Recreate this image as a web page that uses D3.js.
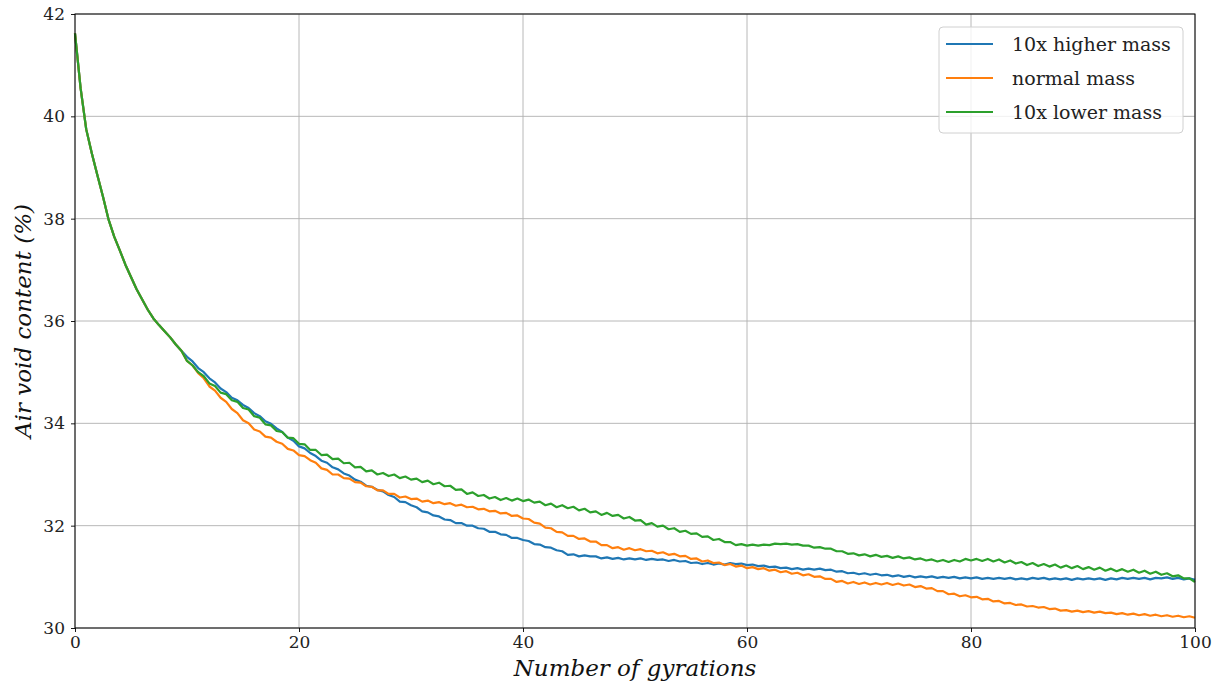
<!DOCTYPE html>
<html>
<head>
<meta charset="utf-8">
<script src="https://cdnjs.cloudflare.com/ajax/libs/d3/7.8.5/d3.min.js"></script>
<style>
  body { margin: 0; background: #fff; }
  text { font-family: "DejaVu Serif", "Liberation Serif", serif; }
</style>
</head>
<body>
<div id="chart"></div>
<script>
// gyration step between two readings
var step = 0.5;

// values, one every half gyration (0 .. 100)
var higherMass = [
  41.62, 40.55, 39.75, 39.28, 38.85, 38.43, 37.98, 37.65, 37.38, 37.10, 36.86, 36.62, 36.42, 36.22, 36.05, 35.92, 35.80, 35.68, 35.54, 35.42,
  35.30, 35.21, 35.08, 35.00, 34.88, 34.80, 34.68, 34.61, 34.50, 34.45, 34.36, 34.30, 34.20, 34.14, 34.04, 33.99, 33.90, 33.83, 33.72, 33.66,
  33.55, 33.51, 33.42, 33.36, 33.27, 33.23, 33.14, 33.10, 33.02, 32.98, 32.90, 32.86, 32.78, 32.76, 32.70, 32.67, 32.60, 32.56, 32.47, 32.46,
  32.40, 32.36, 32.28, 32.26, 32.20, 32.18, 32.12, 32.11, 32.05, 32.05, 32.00, 32.00, 31.95, 31.94, 31.88, 31.88, 31.83, 31.82, 31.76, 31.76,
  31.72, 31.70, 31.64, 31.63, 31.58, 31.57, 31.52, 31.50, 31.43, 31.44, 31.40, 31.42, 31.40, 31.40, 31.36, 31.38, 31.35, 31.37, 31.34, 31.36,
  31.34, 31.36, 31.33, 31.35, 31.33, 31.34, 31.31, 31.33, 31.30, 31.31, 31.27, 31.28, 31.25, 31.27, 31.24, 31.26, 31.24, 31.27, 31.25, 31.26,
  31.23, 31.24, 31.21, 31.22, 31.19, 31.20, 31.17, 31.18, 31.15, 31.17, 31.14, 31.16, 31.14, 31.16, 31.13, 31.14, 31.10, 31.11, 31.07, 31.08,
  31.05, 31.07, 31.04, 31.06, 31.03, 31.04, 31.01, 31.03, 31.00, 31.02, 30.99, 31.01, 30.99, 31.01, 30.98, 31.00, 30.98, 31.00, 30.97, 30.99,
  30.97, 30.99, 30.96, 30.98, 30.96, 30.98, 30.96, 30.98, 30.95, 30.97, 30.95, 30.98, 30.96, 30.98, 30.95, 30.97, 30.95, 30.97, 30.94, 30.97,
  30.95, 30.97, 30.95, 30.97, 30.94, 30.97, 30.95, 30.98, 30.96, 30.98, 30.96, 30.98, 30.95, 30.98, 30.97, 30.99, 30.96, 30.98, 30.95, 30.97,
  30.94
];

var normalMass = [
  41.62, 40.55, 39.75, 39.28, 38.85, 38.43, 37.98, 37.65, 37.38, 37.10, 36.86, 36.62, 36.42, 36.22, 36.05, 35.92, 35.80, 35.68, 35.54, 35.42,
  35.22, 35.13, 34.98, 34.88, 34.72, 34.64, 34.50, 34.42, 34.28, 34.20, 34.06, 34.00, 33.88, 33.84, 33.74, 33.72, 33.64, 33.60, 33.50, 33.47,
  33.38, 33.36, 33.28, 33.23, 33.12, 33.09, 33.00, 33.00, 32.93, 32.92, 32.85, 32.84, 32.77, 32.76, 32.69, 32.69, 32.62, 32.62, 32.55, 32.57,
  32.52, 32.53, 32.47, 32.49, 32.44, 32.46, 32.42, 32.44, 32.39, 32.41, 32.36, 32.37, 32.32, 32.33, 32.28, 32.29, 32.24, 32.25, 32.19, 32.20,
  32.14, 32.13, 32.06, 32.04, 31.96, 31.95, 31.88, 31.87, 31.80, 31.80, 31.74, 31.75, 31.69, 31.69, 31.62, 31.62, 31.56, 31.58, 31.53, 31.56,
  31.52, 31.54, 31.50, 31.51, 31.46, 31.48, 31.43, 31.45, 31.40, 31.41, 31.35, 31.36, 31.30, 31.32, 31.27, 31.28, 31.23, 31.25, 31.20, 31.22,
  31.17, 31.19, 31.15, 31.17, 31.12, 31.14, 31.09, 31.11, 31.06, 31.08, 31.03, 31.05, 31.00, 31.01, 30.96, 30.96, 30.90, 30.92, 30.87, 30.90,
  30.86, 30.89, 30.85, 30.88, 30.85, 30.88, 30.84, 30.87, 30.83, 30.85, 30.80, 30.82, 30.77, 30.78, 30.72, 30.72, 30.66, 30.67, 30.62, 30.64,
  30.60, 30.61, 30.56, 30.57, 30.52, 30.53, 30.48, 30.49, 30.45, 30.46, 30.42, 30.43, 30.40, 30.41, 30.37, 30.38, 30.34, 30.35, 30.32, 30.34,
  30.31, 30.33, 30.30, 30.32, 30.29, 30.30, 30.27, 30.29, 30.26, 30.28, 30.25, 30.27, 30.24, 30.26, 30.23, 30.25, 30.22, 30.24, 30.21, 30.23,
  30.20
];

var lowerMass = [
  41.62, 40.55, 39.75, 39.28, 38.85, 38.43, 37.98, 37.65, 37.38, 37.10, 36.86, 36.62, 36.42, 36.22, 36.05, 35.92, 35.80, 35.68, 35.54, 35.42,
  35.22, 35.13, 35.00, 34.92, 34.78, 34.73, 34.60, 34.57, 34.45, 34.42, 34.30, 34.27, 34.14, 34.11, 33.98, 33.96, 33.85, 33.83, 33.72, 33.71,
  33.60, 33.59, 33.48, 33.48, 33.38, 33.39, 33.30, 33.31, 33.22, 33.23, 33.14, 33.15, 33.06, 33.08, 33.00, 33.03, 32.97, 33.00, 32.93, 32.96,
  32.90, 32.92, 32.85, 32.88, 32.81, 32.84, 32.77, 32.78, 32.70, 32.71, 32.62, 32.65, 32.58, 32.60, 32.53, 32.56, 32.50, 32.54, 32.49, 32.53,
  32.48, 32.51, 32.45, 32.47, 32.40, 32.43, 32.36, 32.40, 32.34, 32.37, 32.30, 32.33, 32.26, 32.28, 32.21, 32.25, 32.19, 32.21, 32.14, 32.17,
  32.10, 32.11, 32.02, 32.05, 31.98, 32.00, 31.93, 31.95, 31.88, 31.90, 31.84, 31.85, 31.78, 31.79, 31.72, 31.74, 31.68, 31.68, 31.62, 31.64,
  31.61, 31.63, 31.61, 31.63, 31.62, 31.65, 31.64, 31.65, 31.63, 31.64, 31.61, 31.61, 31.57, 31.58, 31.55, 31.55, 31.50, 31.50, 31.45, 31.46,
  31.42, 31.44, 31.40, 31.43, 31.39, 31.41, 31.37, 31.40, 31.36, 31.38, 31.34, 31.36, 31.32, 31.34, 31.30, 31.33, 31.29, 31.33, 31.30, 31.35,
  31.32, 31.35, 31.31, 31.35, 31.30, 31.34, 31.28, 31.32, 31.26, 31.29, 31.23, 31.27, 31.21, 31.25, 31.20, 31.24, 31.18, 31.22, 31.17, 31.21,
  31.15, 31.19, 31.14, 31.18, 31.12, 31.16, 31.11, 31.15, 31.10, 31.14, 31.08, 31.12, 31.06, 31.10, 31.04, 31.07, 31.01, 31.03, 30.97, 30.97,
  30.90
];

var seriesNames = ["10x higher mass", "normal mass", "10x lower mass"];
var seriesColors = ["#1f77b4", "#ff7f0e", "#2ca02c"];
var xTicks = [0, 20, 40, 60, 80, 100];
var yTicks = [30, 32, 34, 36, 38, 40, 42];

// set the dimensions and margins of the graph
var margin = {top: 14, right: 18, bottom: 56, left: 75},
    width = 1213 - margin.left - margin.right,
    height = 684 - margin.top - margin.bottom;

var x = d3.scaleLinear().domain([0, 100]).range([0, width]);
var y = d3.scaleLinear().domain([30, 42]).range([height, 0]);

var svg = d3.select("#chart").append("svg")
    .attr("width", width + margin.left + margin.right)
    .attr("height", height + margin.top + margin.bottom)
  .append("g")
    .attr("transform", "translate(" + margin.left + "," + margin.top + ")");

// grid lines
svg.append("g")
    .selectAll("line.vg").data(xTicks).enter().append("line")
    .attr("x1", function(d) { return x(d); }).attr("x2", function(d) { return x(d); })
    .attr("y1", 0).attr("y2", height)
    .attr("stroke", "#b0b0b0").attr("stroke-width", 0.9);
svg.append("g")
    .selectAll("line.hg").data(yTicks).enter().append("line")
    .attr("x1", 0).attr("x2", width)
    .attr("y1", function(d) { return y(d); }).attr("y2", function(d) { return y(d); })
    .attr("stroke", "#b0b0b0").attr("stroke-width", 0.9);

// the three curves
var all = [higherMass, normalMass, lowerMass];
var line = d3.line()
    .x(function(d, i) { return x(i * step); })
    .y(function(d) { return y(d); });

all.forEach(function(vals, k) {
  svg.append("path")
      .datum(vals)
      .attr("fill", "none")
      .attr("stroke", seriesColors[k])
      .attr("stroke-width", 2.2)
      .attr("stroke-linejoin", "round")
      .attr("d", line);
});

// axes
var xAxis = svg.append("g")
    .attr("transform", "translate(0," + height + ")")
    .call(d3.axisBottom(x).tickValues(xTicks).tickSize(4).tickPadding(4));
var yAxis = svg.append("g")
    .call(d3.axisLeft(y).tickValues(yTicks).tickSize(4).tickPadding(6));

[xAxis, yAxis].forEach(function(a) {
  a.select(".domain").remove();
  a.selectAll("line").attr("stroke", "#000").attr("stroke-width", 0.9);
  a.selectAll("text")
      .attr("font-family", "DejaVu Serif")
      .attr("font-size", 17)
      .attr("fill", "#222");
});

// frame around the plot
svg.append("rect")
    .attr("width", width).attr("height", height)
    .attr("fill", "none").attr("stroke", "#000").attr("stroke-width", 1);

// axis titles
svg.append("text")
    .attr("x", width / 2).attr("y", height + 48)
    .attr("text-anchor", "middle")
    .attr("font-size", 23).attr("font-style", "italic")
    .attr("fill", "#111")
    .text("Number of gyrations");

svg.append("text")
    .attr("transform", "translate(" + (-44) + "," + (height / 2) + ") rotate(-90)")
    .attr("text-anchor", "middle")
    .attr("font-size", 23).attr("font-style", "italic")
    .attr("fill", "#111")
    .text("Air void content (%)");

// legend
var legend = svg.append("g")
    .attr("transform", "translate(" + (x(100) - 256) + ",13)");

legend.append("rect")
    .attr("width", 244).attr("height", 106)
    .attr("rx", 4).attr("ry", 4)
    .attr("fill", "#fff").attr("fill-opacity", 0.8)
    .attr("stroke", "#d0d0d0");

seriesNames.forEach(function(name, k) {
  var row = legend.append("g").attr("transform", "translate(0," + (17 + k * 34) + ")");
  row.append("line")
      .attr("x1", 7).attr("x2", 54)
      .attr("stroke", seriesColors[k]).attr("stroke-width", 2.2);
  row.append("text")
      .attr("x", 73).attr("y", 0).attr("dy", "0.35em")
      .attr("font-size", 19).attr("fill", "#222")
      .text(name);
});
</script>
</body>
</html>
